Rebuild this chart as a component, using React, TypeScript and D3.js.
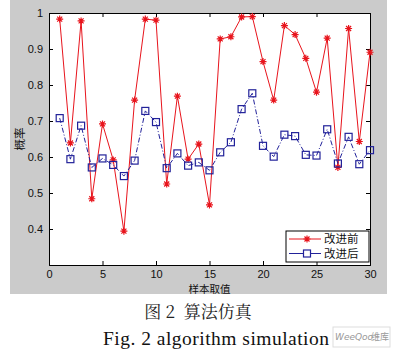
import React, { useEffect, useRef } from 'react';
import * as d3 from 'd3';

// sample index 1..30
const samples = d3.range(1, 31);
// 改进前 (before improvement)
const before = [
  0.983, 0.639, 0.978, 0.484, 0.692, 0.592, 0.394, 0.758, 0.983, 0.98,
  0.525, 0.769, 0.594, 0.636, 0.467, 0.928, 0.934, 0.989, 0.99, 0.865,
  0.758, 0.965, 0.94, 0.874, 0.78, 0.93, 0.571, 0.957, 0.643, 0.891,
];
// 改进后 (after improvement)
const after = [
  0.708, 0.594, 0.687, 0.571, 0.596, 0.578, 0.547, 0.59, 0.728, 0.697,
  0.569, 0.61, 0.576, 0.585, 0.563, 0.613, 0.641, 0.733, 0.777, 0.631,
  0.601, 0.662, 0.658, 0.606, 0.604, 0.677, 0.582, 0.656, 0.58, 0.619,
];
const xTicks = [0, 5, 10, 15, 20, 25, 30];
const yTicks = [0.4, 0.5, 0.6, 0.7, 0.8, 0.9, 1];
const seriesNames = ['改进前', '改进后'];

const RED = '#e8141c';
const BLUE = '#22229a';
const STAR = 'M-3.5,0H3.5M0,-3.5V3.5M-2.5,-2.5L2.5,2.5M-2.5,2.5L2.5,-2.5';

const App = () => {
  const svgRef = useRef<SVGSVGElement>(null);

  useEffect(() => {
    const svg = d3.select(svgRef.current);
    svg.selectAll('*').remove();

    const margin = { top: 13, right: 31, bottom: 89, left: 49 };
    const W = 401;
    const H = 354;

    // figure background
    svg.append('rect')
      .attr('x', 10).attr('y', 0).attr('width', 377).attr('height', 294)
      .attr('fill', '#cbcbcb');

    const x = d3.scaleLinear().domain([0, 30]).range([margin.left, W - margin.right]);
    const y = d3.scaleLinear().domain([0.3, 1]).range([H - margin.bottom, margin.top]);

    const [x0, x1] = x.range();
    const [y0, y1] = y.range();

    svg.append('rect')
      .attr('x', x0).attr('y', y1).attr('width', x1 - x0).attr('height', y0 - y1)
      .attr('fill', '#fff');

    const font = 'Liberation Sans, Arial, sans-serif';

    // axes, ticks pointing inward
    const bottom = svg.append('g').attr('transform', `translate(0,${y0})`)
      .call(d3.axisBottom(x).tickValues(xTicks).tickSize(-4).tickPadding(5).tickFormat(d3.format('d')));
    const top = svg.append('g').attr('transform', `translate(0,${y1})`)
      .call(d3.axisTop(x).tickValues(xTicks).tickSize(-4).tickFormat(() => ''));
    const left = svg.append('g').attr('transform', `translate(${x0},0)`)
      .call(d3.axisLeft(y).tickValues(yTicks).tickSize(-4).tickPadding(6).tickFormat(d3.format('~g')));
    const right = svg.append('g').attr('transform', `translate(${x1},0)`)
      .call(d3.axisRight(y).tickValues(yTicks).tickSize(-4).tickFormat(() => ''));

    [bottom, top, left, right].forEach(g => {
      g.select('.domain').attr('stroke', '#000');
      g.selectAll('.tick line').attr('stroke', '#000');
      g.selectAll('.tick text')
        .attr('font-family', font).attr('font-size', 11).attr('fill', '#111');
    });

    // lines
    const line = d3.line<number>()
      .x((_, i) => x(samples[i]))
      .y(d => y(d));

    svg.append('path')
      .datum(before)
      .attr('d', line)
      .attr('fill', 'none')
      .attr('stroke', RED)
      .attr('stroke-width', 1);

    svg.append('path')
      .datum(after)
      .attr('d', line)
      .attr('fill', 'none')
      .attr('stroke', BLUE)
      .attr('stroke-width', 1)
      .attr('stroke-dasharray', '5,2,1,2');

    // markers
    svg.append('g')
      .selectAll('path')
      .data(before)
      .enter()
      .append('path')
      .attr('transform', (d, i) => `translate(${x(samples[i])},${y(d)})`)
      .attr('d', STAR)
      .attr('stroke', RED)
      .attr('stroke-width', 1.2)
      .attr('fill', 'none');

    svg.append('g')
      .selectAll('rect')
      .data(after)
      .enter()
      .append('rect')
      .attr('x', (d, i) => x(samples[i]) - 3.5)
      .attr('y', d => y(d) - 3.5)
      .attr('width', 7)
      .attr('height', 7)
      .attr('stroke', BLUE)
      .attr('stroke-width', 1.2)
      .attr('fill', 'none');

    // legend
    const lg = svg.append('g').attr('transform', `translate(${x1 - 84},${y0 - 34})`);
    lg.append('rect')
      .attr('width', 83).attr('height', 31)
      .attr('fill', '#fff').attr('stroke', '#000');
    seriesNames.forEach((name, i) => {
      const cy = 8 + i * 14.5;
      lg.append('line')
        .attr('x1', 3).attr('x2', 35).attr('y1', cy).attr('y2', cy)
        .attr('stroke', i === 0 ? RED : BLUE);
      if (i === 0) {
        lg.append('path').attr('transform', `translate(21,${cy})`).attr('d', STAR)
          .attr('stroke', RED).attr('stroke-width', 1.2);
      } else {
        lg.append('rect').attr('x', 17.5).attr('y', cy - 3.5).attr('width', 7).attr('height', 7)
          .attr('stroke', BLUE).attr('stroke-width', 1.2).attr('fill', '#fff');
      }
      lg.append('text')
        .attr('x', 38).attr('y', cy).attr('dy', '0.35em')
        .attr('font-family', 'Noto Sans CJK SC').attr('font-size', 11.5)
        .attr('fill', '#111')
        .text(name);
    });

    // axis labels
    svg.append('text')
      .attr('x', (x0 + x1) / 2).attr('y', 289).attr('dy', '0.35em')
      .attr('text-anchor', 'middle')
      .attr('font-family', 'Noto Sans CJK SC').attr('font-size', 10.5).attr('fill', '#111')
      .text('样本取值');

    svg.append('text')
      .attr('transform', `translate(20,${(y0 + y1) / 2}) rotate(-90)`)
      .attr('dy', '0.35em')
      .attr('text-anchor', 'middle')
      .attr('font-family', 'Noto Sans CJK SC').attr('font-size', 11.5).attr('fill', '#111')
      .text('概率');

    // captions
    svg.append('text')
      .attr('x', 198).attr('y', 312).attr('dy', '0.35em')
      .attr('text-anchor', 'middle')
      .attr('font-family', 'Noto Serif CJK SC, Noto Sans CJK SC').attr('font-size', 17).attr('fill', '#222')
      .style('white-space', 'pre')
      .text('图 2  算法仿真');

    svg.append('text')
      .attr('x', 103).attr('y', 338).attr('dy', '0.35em')
      .attr('font-family', 'Liberation Serif, Times New Roman, serif').attr('font-size', 19.5).attr('fill', '#111')
      .attr('textLength', 226)
      .text('Fig. 2 algorithm simulation');

    // watermark
    const wm = svg.append('g').attr('transform', 'translate(333,327)');
    wm.append('rect').attr('width', 57).attr('height', 20)
      .attr('fill', '#fff').attr('stroke', '#ddd');
    wm.append('text').attr('x', 2).attr('y', 10).attr('dy', '0.35em')
      .attr('font-family', 'DejaVu Sans').attr('font-style', 'italic').attr('font-size', 9).attr('fill', '#999')
      .text('WeeQoo');
    wm.append('text').attr('x', 56).attr('y', 10).attr('dy', '0.35em').attr('text-anchor', 'end')
      .attr('font-family', 'Noto Sans CJK SC').attr('font-size', 9).attr('fill', '#999')
      .text('维库');
  }, []);

  return (
    <svg ref={svgRef} width={401} height={354}
      style={{ position: 'absolute', left: 0, top: 0, background: '#fff' }} />
  );
};

export default App;
